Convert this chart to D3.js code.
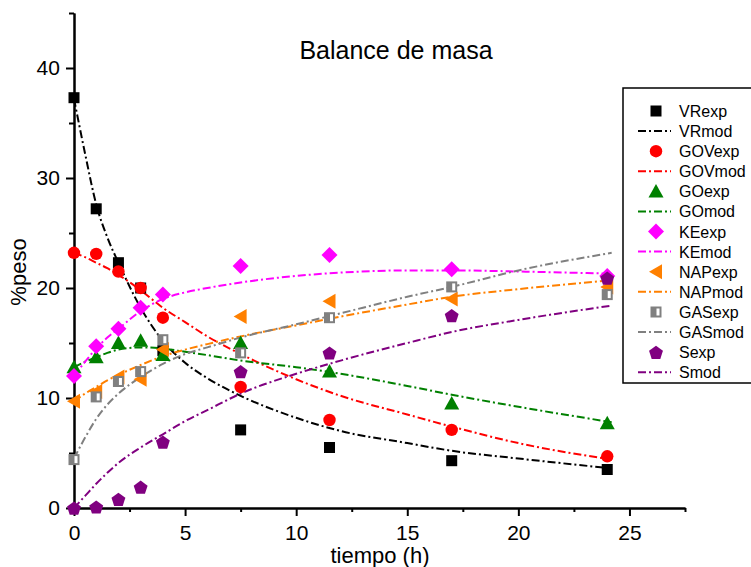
<!DOCTYPE html>
<html>
<head>
<meta charset="utf-8">
<script src="https://cdn.jsdelivr.net/npm/d3@7"></script>
<style>
  html, body { margin: 0; padding: 0; background: #fff; }
  svg { display: block; font-family: "Liberation Sans", Arial, sans-serif; }
</style>
</head>
<body>
<svg id="chart" width="751" height="567"></svg>
<script>
// ---------------- DATA ----------------
const timeExp = [0, 1, 2, 3, 4, 7.5, 11.5, 17, 24];
const VRexp  = [37.3, 27.2, 22.3, 20.0, 14.3, 7.1, 5.5, 4.3, 3.5];
const GOVexp = [23.2, 23.1, 21.5, 20.0, 17.3, 11.0, 8.0, 7.1, 4.7];
const GOexp  = [12.8, 13.7, 15.0, 15.2, 13.9, 15.0, 12.4, 9.5, 7.7];
const KEexp  = [12.0, 14.7, 16.3, 18.2, 19.4, 22.0, 23.0, 21.7, 21.1];
const NAPexp = [9.7, 10.6, 11.9, 11.7, 14.4, 17.4, 18.8, 19.0, 20.1];
const GASexp = [4.4, 10.1, 11.5, 12.4, 15.3, 14.1, 17.3, 20.1, 19.4];
const Sexp   = [0.0, 0.1, 0.8, 1.9, 6.0, 12.4, 14.1, 17.5, 20.9];

const timeMod = [0, 0.5, 1, 1.5, 2, 3, 4, 5, 6, 7.5, 10, 12, 15, 17, 20, 24.2];
const VRmod  = [37.2, 32.2, 27.6, 24.6, 22.3, 18.2, 15.2, 13.2, 11.8, 10.2, 8.2, 7.0, 5.9, 5.2, 4.5, 3.6];
const GOVmod = [23.2, 22.8, 22.3, 21.8, 21.2, 19.8, 18.2, 16.9, 15.6, 14.0, 11.7, 10.2, 8.5, 7.4, 5.9, 4.4];
const GOmod  = [12.8, 13.3, 13.7, 14.1, 14.4, 14.6, 14.5, 14.2, 13.9, 13.4, 12.8, 12.2, 11.1, 10.3, 9.2, 7.8];
const KEmod  = [12.0, 13.3, 14.5, 15.5, 16.3, 17.9, 19.0, 19.6, 20.0, 20.5, 21.1, 21.4, 21.6, 21.6, 21.5, 21.3];
const NAPmod = [9.7, 10.4, 11.0, 11.6, 12.1, 13.0, 13.8, 14.4, 14.9, 15.6, 16.6, 17.4, 18.5, 19.2, 19.9, 20.7];
const GASmod = [4.5, 6.4, 8.1, 9.4, 10.4, 11.9, 13.1, 14.0, 14.6, 15.5, 16.7, 17.7, 19.2, 20.1, 21.6, 23.2];
const Smod   = [0.0, 1.1, 2.2, 3.2, 4.1, 5.5, 6.7, 7.9, 8.9, 10.4, 12.2, 13.4, 15.0, 16.0, 17.1, 18.4];

const seriesNames = ["VR", "GOV", "GO", "KE", "NAP", "GAS", "S"];
const xTicks = [0, 5, 10, 15, 20, 25];
const yTicks = [0, 10, 20, 30, 40];
const titleText = "Balance de masa";
const xLabel = "tiempo (h)";
const yLabel = "%peso";

// ---------------- STYLE ----------------
const colors = { VR: "#000000", GOV: "#ff0000", GO: "#008000", KE: "#ff00ff", NAP: "#ff8000", GAS: "#808080", S: "#800080" };
const expData = { VR: VRexp, GOV: GOVexp, GO: GOexp, KE: KEexp, NAP: NAPexp, GAS: GASexp, S: Sexp };
const modData = { VR: VRmod, GOV: GOVmod, GO: GOmod, KE: KEmod, NAP: NAPmod, GAS: GASmod, S: Smod };
const markerType = { VR: "square", GOV: "circle", GO: "triangle", KE: "diamond", NAP: "leftTri", GAS: "halfSquare", S: "pentagon" };
const dash = "8,3,2,3";

const svg = d3.select("#chart");
const x = d3.scaleLinear().domain([0, 27.5]).range([74, 685]);
const y = d3.scaleLinear().domain([0, 45]).range([508, 13]);

// marker drawing
function drawMarker(g, type, color, cx, cy) {
  const s = g.append("g").attr("transform", `translate(${cx},${cy})`);
  if (type === "square") {
    s.append("rect").attr("x", -5.5).attr("y", -5.5).attr("width", 11).attr("height", 11).attr("fill", color);
  } else if (type === "circle") {
    s.append("circle").attr("r", 6.2).attr("fill", color);
  } else if (type === "triangle") {
    s.append("path").attr("d", "M0,-7.5L7.5,6L-7.5,6Z").attr("fill", color);
  } else if (type === "diamond") {
    s.append("path").attr("d", "M0,-8L8,0L0,8L-8,0Z").attr("fill", color);
  } else if (type === "leftTri") {
    s.append("path").attr("d", "M-7,0L6,-7.5L6,7.5Z").attr("fill", color);
  } else if (type === "halfSquare") {
    s.append("rect").attr("x", -5.5).attr("y", -5.5).attr("width", 11).attr("height", 11).attr("fill", color);
    s.append("rect").attr("x", 0.5).attr("y", -3.5).attr("width", 3).attr("height", 7).attr("fill", "#fff");
  } else if (type === "pentagon") {
    const r = 7.3;
    const pts = d3.range(5).map(i => {
      const a = -Math.PI / 2 + i * 2 * Math.PI / 5;
      return [r * Math.cos(a), r * Math.sin(a) + 0.8];
    });
    s.append("path").attr("d", "M" + pts.map(p => p.join(",")).join("L") + "Z").attr("fill", color);
  }
}

// ---------------- AXES ----------------
const axG = svg.append("g").attr("class", "axes");
const xAxis = d3.axisBottom(x).tickValues(xTicks).tickSize(8).tickSizeOuter(0).tickFormat(d3.format("d"));
const xMinor = d3.axisBottom(x).tickValues([2.5, 7.5, 12.5, 17.5, 22.5, 27.5]).tickSize(4).tickSizeOuter(0).tickFormat("");
const yAxis = d3.axisLeft(y).tickValues(yTicks).tickSize(8).tickSizeOuter(0).tickFormat(d3.format("d"));
const yMinor = d3.axisLeft(y).tickValues([5, 15, 25, 35, 45]).tickSize(5).tickSizeOuter(0).tickFormat("");

function styleAxis(g) {
  g.selectAll("path.domain").attr("stroke", "#000").attr("stroke-width", 2);
  g.selectAll("line").attr("stroke", "#000").attr("stroke-width", 2);
  g.selectAll("text").attr("fill", "#000").style("font-size", "21px").style("font-family", "'Liberation Sans', Arial, sans-serif");
}

axG.append("g").attr("transform", `translate(0,${y(0)})`).call(xMinor).call(styleAxis);
axG.append("g").attr("transform", `translate(0,${y(0)})`).call(xAxis).call(styleAxis)
  .selectAll("text").attr("dy", "1.0em");
axG.append("g").attr("transform", `translate(${x(0)},0)`).call(yMinor).call(styleAxis);
axG.append("g").attr("transform", `translate(${x(0)},0)`).call(yAxis).call(styleAxis)
  .selectAll("text").attr("dx", "-0.15em");

// ---------------- SERIES ----------------
const line = d3.line().x((d, i) => x(timeMod[i])).y(d => y(d)).curve(d3.curveMonotoneX);
const plot = svg.append("g");
seriesNames.forEach(name => {
  plot.append("path")
    .attr("d", line(modData[name]))
    .attr("fill", "none")
    .attr("stroke", colors[name])
    .attr("stroke-width", 2)
    .attr("stroke-dasharray", dash);
});
seriesNames.forEach(name => {
  expData[name].forEach((v, i) => drawMarker(plot, markerType[name], colors[name], x(timeExp[i]), y(v)));
});

// ---------------- TEXT ----------------
svg.append("text").attr("x", 396).attr("y", 59).attr("text-anchor", "middle")
  .style("font-size", "25px").attr("fill", "#000").text(titleText);
svg.append("text").attr("x", 380).attr("y", 563).attr("text-anchor", "middle")
  .style("font-size", "22px").attr("fill", "#000").text(xLabel);
svg.append("text").attr("transform", "translate(26,272) rotate(-90)").attr("text-anchor", "middle")
  .style("font-size", "22px").attr("fill", "#000").text(yLabel);

// ---------------- LEGEND ----------------
const leg = svg.append("g");
leg.append("rect").attr("x", 623).attr("y", 88).attr("width", 140).attr("height", 295)
  .attr("fill", "#fff").attr("stroke", "#000").attr("stroke-width", 1.5);
seriesNames.forEach((name, i) => {
  const y0 = 111 + i * 40.2;
  const y1 = y0 + 20;
  drawMarker(leg, markerType[name], colors[name], 656, y0);
  leg.append("text").attr("x", 679).attr("y", y0 + 6).style("font-size", "16px").attr("fill", "#000").text(name + "exp");
  leg.append("line").attr("x1", 638).attr("x2", 671).attr("y1", y1).attr("y2", y1)
    .attr("stroke", colors[name]).attr("stroke-width", 2).attr("stroke-dasharray", dash);
  leg.append("text").attr("x", 679).attr("y", y1 + 6).style("font-size", "16px").attr("fill", "#000").text(name + "mod");
});
</script>
</body>
</html>
